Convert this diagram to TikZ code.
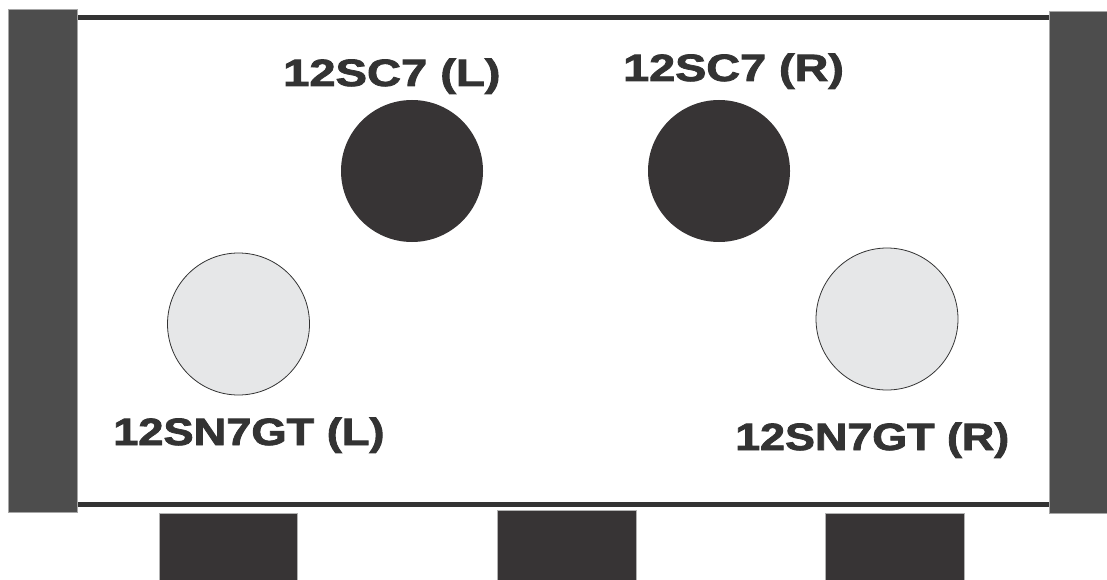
\documentclass[tikz,border=0pt]{standalone}
\usepackage{fontspec}
\setmainfont{Liberation Sans}
\newfontfamily\lblfont{Liberation Sans Bold}[FakeBold=2]
\definecolor{bargray}{HTML}{4D4D4D}
\definecolor{linegray}{HTML}{333333}
\definecolor{tubedark}{HTML}{373435}
\definecolor{tubelight}{HTML}{E6E7E8}
\definecolor{txtgray}{HTML}{333333}
\tikzset{
  sidebar/.style={draw=gray!70, line width=0.8pt, fill=bargray},
  rail/.style={fill=linegray},
  jack/.style={fill=tubedark, draw=gray!60, line width=0.6pt},
  bigtube/.style={circle, fill=tubedark, inner sep=0pt, minimum size=142pt},
  smalltube/.style={circle, fill=tubelight, draw=linegray, line width=0.8pt, inner sep=0pt, minimum size=142pt},
  lbl/.style={anchor=base west, inner sep=0pt, text=txtgray, font=\fontsize{38}{40}\lblfont},
}
\begin{document}
\begin{tikzpicture}[x=1pt,y=-1pt]
\useasboundingbox (0,0) rectangle (1107,580);
% rails
\fill[rail] (77,15) rectangle (1049,20);
\fill[rail] (77,502) rectangle (1049,507);
% side bars
\draw[sidebar] (8,9) rectangle (77,512);
\draw[sidebar] (1049,11) rectangle (1108,513);
% bottom jacks
\draw[jack] (159,513) rectangle (297,581);
\draw[jack] (497,510) rectangle (636,581);
\draw[jack] (825,513) rectangle (964,581);
% tubes
\node[bigtube] (scl) at (412,171) {};
\node[bigtube] (scr) at (719,171) {};
\node[smalltube] (snl) at (238.5,324) {};
\node[smalltube] (snr) at (887,319) {};
% labels
\node[lbl] (tscl) at (283,86) {\scalebox{1.24}[1]{12SC7 (L)}};
\node[lbl] (tscr) at (623,81) {\scalebox{1.23}[1]{12SC7 (R)}};
\node[lbl] (tsnl) at (113,445) {\scalebox{1.19}[1]{12SN7GT (L)}};
\node[lbl] (tsnr) at (735,450) {\scalebox{1.18}[1]{12SN7GT (R)}};
\end{tikzpicture}
\end{document}
